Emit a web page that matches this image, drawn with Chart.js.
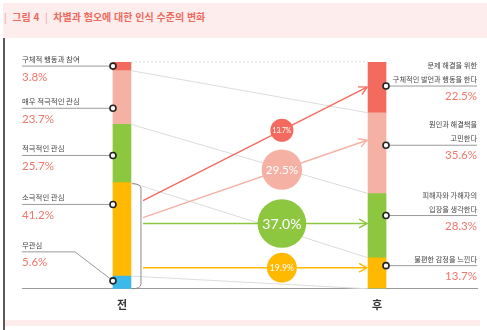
<!DOCTYPE html>
<html lang="ko">
<head>
<meta charset="UTF-8" />
<title>차별과 혐오에 대한 인식 수준의 변화</title>
<script src="https://cdn.jsdelivr.net/npm/chart.js"></script>
<style>
  body {
    margin: 0;
    width: 487px;
    height: 330px;
    background: #fff;
    position: relative;
    overflow: hidden;
    font-family: "Noto Sans CJK KR", sans-serif;
  }
  .head {
    position: absolute;
    left: 3px;
    top: 3px;
    width: 484px;
    height: 35px;
    background: #fdeded;
  }
  .title {
    position: absolute;
    left: 4px;
    top: 9px;
    font-size: 10px;
    font-weight: bold;
    color: #ee6a5c;
    white-space: pre;
  }
  .title .bar { font-weight: normal; color: #f29a90; }
  .side {
    position: absolute;
    left: 3px;
    top: 38px;
    width: 2px;
    height: 292px;
    background: #5a5a5a;
  }
  .foot {
    position: absolute;
    left: 5px;
    top: 320px;
    width: 475px;
    height: 6px;
    background: #fdeded;
  }
  #chart { position: absolute; left: 0; top: 0; }
</style>
</head>
<body>
<div class="head"></div>
<div class="title"><span class="bar">|</span>  그림 4  <span class="bar">|</span>  차별과 혐오에 대한 인식 수준의 변화</div>
<div class="side"></div>
<div class="foot"></div>
<canvas id="chart" width="487" height="330"></canvas>

<script>
  // before / after, listed top to bottom
  const periods = ["전", "후"];
  const beforeLabels = ["구체적 행동과 참여", "매우 적극적인 관심", "적극적인 관심", "소극적인 관심", "무관심"];
  const beforeValues = [3.8, 23.7, 25.7, 41.2, 5.6];
  const afterLabels = [
    ["문제 해결을 위한", "구체적인 발언과 행동을 한다"],
    ["원인과 해결책을", "고민한다"],
    ["피해자와 가해자의", "입장을 생각한다"],
    ["불편한 감정을 느낀다"],
  ];
  const afterValues = [22.5, 35.6, 28.3, 13.7];
  // where the "소극적인 관심" group went
  const shiftValues = [13.7, 29.5, 37.0, 19.9];

  const colors = ["#f26b5e", "#f5b1a3", "#8dc63f", "#ffb900", "#3cb9e9"];
  const pctColor = "#f0766a";

  // label anchors and arrow ends, in y-axis units
  const beforeAnchor = [98.2, 79.6, 58.8, 37.2, 3.5];
  const afterAnchor = [89.4, 63.3, 32.3, 10.2];
  const arrowFrom = [38.9, 31.4, 28.8, 9.3];
  const arrowTo = [88.9, 65.5, 28.8, 9.3];

  const BAR = 18;

  // stacked bars need bottom-first order
  const datasets = [];
  for (let i = beforeValues.length - 1; i >= 0; i--) {
    datasets.push({
      data: [
        { x: 0, y: beforeValues[i] },
        { x: 1, y: afterValues[i] || 0 },
      ],
      backgroundColor: colors[i],
      borderWidth: 0,
      barThickness: BAR,
    });
  }

  function edges(vals) {
    // top edge of each segment, top-down order
    const out = [];
    let acc = 0;
    for (let i = vals.length - 1; i >= 0; i--) {
      acc += vals[i];
      out[i] = acc;
    }
    return out;
  }

  function dot(ctx, x, y) {
    ctx.beginPath();
    ctx.arc(x, y, 3, 0, Math.PI * 2);
    ctx.fillStyle = "#fff";
    ctx.fill();
    ctx.lineWidth = 1.6;
    ctx.strokeStyle = "#222";
    ctx.stroke();
  }

  const overlay = {
    id: "overlay",
    afterDatasetsDraw(chart) {
      const { ctx, chartArea } = chart;
      const x = chart.scales.x;
      const y = chart.scales.y;
      const half = BAR / 2;
      const xL = x.getPixelForValue(0);
      const xR = x.getPixelForValue(1);
      const topL = edges(beforeValues);
      const topR = edges(afterValues.concat([0]));

      ctx.save();

      // connectors between matching segment edges
      ctx.lineWidth = 1;
      ctx.strokeStyle = "#dcdcdc";
      topL.forEach((v, i) => {
        ctx.setLineDash(i === 0 ? [2, 2] : []);
        ctx.beginPath();
        ctx.moveTo(xL + half, y.getPixelForValue(v));
        ctx.lineTo(xR - half, y.getPixelForValue(topR[i]));
        ctx.stroke();
      });
      ctx.setLineDash([]);

      // bracket round the lower part of the left bar
      const bTop = y.getPixelForValue(topL[3]) + 1;
      const bBot = y.getPixelForValue(0);
      const bx = xL + half + 10;
      ctx.strokeStyle = "#8a8a8a";
      ctx.lineWidth = 1;
      ctx.beginPath();
      ctx.moveTo(xL + half + 1, bTop);
      ctx.quadraticCurveTo(bx, bTop, bx, bTop + 5);
      ctx.lineTo(bx, bBot - 5);
      ctx.quadraticCurveTo(bx, bBot, xL + half + 1, bBot);
      ctx.stroke();

      // arrows to the after bar
      const ax0 = bx + 2;
      const ax1 = xR - half - 1;
      shiftValues.forEach((v, i) => {
        const y0 = y.getPixelForValue(arrowFrom[i]);
        const y1 = y.getPixelForValue(arrowTo[i]);
        ctx.strokeStyle = colors[i];
        ctx.lineWidth = 1.4;
        ctx.beginPath();
        ctx.moveTo(ax0, y0);
        ctx.lineTo(ax1, y1);
        ctx.stroke();
        const ang = Math.atan2(y1 - y0, ax1 - ax0);
        ctx.beginPath();
        ctx.moveTo(ax1 - 9 * Math.cos(ang - 0.5), y1 - 9 * Math.sin(ang - 0.5));
        ctx.lineTo(ax1, y1);
        ctx.lineTo(ax1 - 9 * Math.cos(ang + 0.5), y1 - 9 * Math.sin(ang + 0.5));
        ctx.stroke();
      });

      // value bubbles on the arrows
      shiftValues.forEach((v, i) => {
        const y0 = y.getPixelForValue(arrowFrom[i]);
        const y1 = y.getPixelForValue(arrowTo[i]);
        const t = 0.62;
        const cx = ax0 + (ax1 - ax0) * t;
        const cy = y0 + (y1 - y0) * t;
        const r = 4 + v * 0.55;
        ctx.beginPath();
        ctx.arc(cx, cy, r, 0, Math.PI * 2);
        ctx.fillStyle = colors[i];
        ctx.fill();
        ctx.fillStyle = "#fff";
        ctx.font = `${(r * 0.58).toFixed(1)}px Lato, sans-serif`;
        ctx.textAlign = "center";
        ctx.textBaseline = "middle";
        ctx.fillText(v.toFixed(1) + "%", cx, cy + 0.5);
      });

      // left labels
      const lx = chartArea.left;
      beforeLabels.forEach((name, i) => {
        const dy = y.getPixelForValue(beforeAnchor[i]);
        const dx = xL - half;
        const ly = i === 4 ? dy - 29 : dy;
        ctx.strokeStyle = "#9a9a9a";
        ctx.lineWidth = 1;
        ctx.beginPath();
        ctx.moveTo(lx, ly);
        if (i === 4) {
          ctx.lineTo(lx + 53, ly);
        }
        ctx.lineTo(dx, dy);
        ctx.stroke();
        dot(ctx, dx, dy);

        ctx.textAlign = "left";
        ctx.textBaseline = "alphabetic";
        ctx.fillStyle = "#444";
        ctx.font = '7.4px "Noto Sans CJK KR", sans-serif';
        ctx.fillText(name, lx, ly - 4);
        ctx.fillStyle = pctColor;
        ctx.font = "11.5px Lato, sans-serif";
        ctx.fillText(beforeValues[i].toFixed(1) + "%", lx, ly + 14.5);
      });

      // right labels
      const rx = chartArea.right;
      afterLabels.forEach((lines, i) => {
        const dy = y.getPixelForValue(afterAnchor[i]);
        const dx = xR + half;
        ctx.strokeStyle = "#9a9a9a";
        ctx.lineWidth = 1;
        ctx.beginPath();
        ctx.moveTo(dx, dy);
        ctx.lineTo(rx, dy);
        ctx.stroke();
        dot(ctx, dx, dy);

        ctx.textAlign = "right";
        ctx.textBaseline = "alphabetic";
        ctx.fillStyle = "#444";
        ctx.font = '7.2px "Noto Sans CJK KR", sans-serif';
        lines.forEach((s, k) => {
          ctx.fillText(s, rx, dy - 4 - (lines.length - 1 - k) * 14);
        });
        ctx.fillStyle = pctColor;
        ctx.font = "11.5px Lato, sans-serif";
        ctx.fillText(afterValues[i].toFixed(1) + "%", rx, dy + 14);
      });

      ctx.restore();
    },
  };

  new Chart(document.getElementById("chart"), {
    type: "bar",
    data: { datasets },
    options: {
      responsive: false,
      animation: false,
      layout: { padding: { left: 22, right: 10, top: 62, bottom: 10 } },
      plugins: { legend: { display: false }, tooltip: { enabled: false } },
      scales: {
        x: {
          type: "linear",
          stacked: true,
          offset: false,
          min: -0.392,
          max: 1.392,
          grid: { display: false, offset: false, drawTicks: false },
          border: { display: true, color: "#9a9a9a", width: 1 },
          afterBuildTicks: (scale) => {
            scale.ticks = periods.map((p, i) => ({ value: i }));
          },
          ticks: {
            padding: 9,
            color: "#333",
            font: { family: '"Noto Sans CJK KR", sans-serif', size: 11, weight: "bold" },
            callback: (v) => periods[v],
          },
        },
        y: { display: false, stacked: true, min: 0, max: 100 },
      },
    },
    plugins: [overlay],
  });
</script>
</body>
</html>
